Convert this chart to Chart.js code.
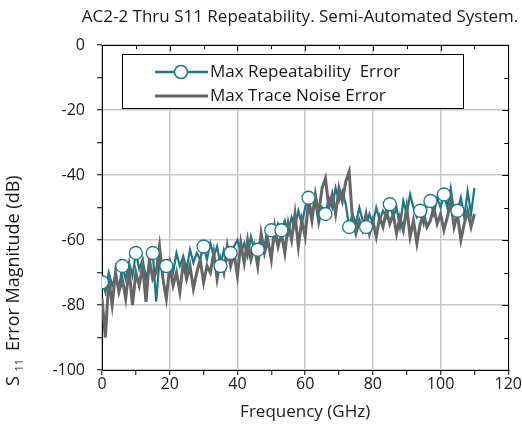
<!DOCTYPE html>
<html>
<head>
<meta charset="utf-8">
<script src="https://cdn.jsdelivr.net/npm/chart.js@4.4.1/dist/chart.umd.min.js"></script>
<style>
  html, body { margin: 0; padding: 0; background: #fff; }
  #wrap { width: 522px; height: 436px; }
</style>
</head>
<body>
<div id="wrap"><canvas id="chart" width="522" height="436"></canvas></div>
<script>
// S11 repeatability, semi-automated system

const TITLE = 'AC2-2 Thru S11 Repeatability. Semi-Automated System.';
const X_TITLE = 'Frequency (GHz)';
const SERIES_NAMES = ['Max Repeatability  Error', 'Max Trace Noise Error'];

const freqGHz = [
  0, 1, 2, 3, 4, 5, 6, 7, 8, 9, 10, 11, 12, 13, 14, 15, 16, 17, 18, 19,
  20, 21, 22, 23, 24, 25, 26, 27, 28, 29, 30, 31, 32, 33, 34, 35, 36, 37, 38, 39,
  40, 41, 42, 43, 44, 45, 46, 47, 48, 49, 50, 51, 52, 53, 54, 55, 56, 57, 58, 59,
  60, 61, 62, 63, 64, 65, 66, 67, 68, 69, 70, 71, 72, 73, 74, 75, 76, 77, 78, 79,
  80, 81, 82, 83, 84, 85, 86, 87, 88, 89, 90, 91, 92, 93, 94, 95, 96, 97, 98, 99,
  100, 101, 102, 103, 104, 105, 106, 107, 108, 109, 110
];

const repeatErr = [
  -73, -76, -70, -74, -71, -75, -68, -72, -67, -71, -64, -69, -66, -72, -67, -64, -79, -66, -70, -68,
  -66, -70, -64, -68, -65, -69, -63, -67, -64, -66, -62, -66, -61, -65, -62, -68, -63, -66, -64, -62,
  -60, -64, -61, -65, -59, -63, -63, -59, -62, -56, -57, -60, -55, -57, -54, -58, -53, -56, -51, -55,
  -50, -47, -52, -48, -55, -50, -52, -47, -50, -44, -48, -45, -49, -56, -52, -55, -50, -54, -56, -52,
  -55, -50, -54, -51, -53, -49, -53, -50, -56, -48, -52, -46, -50, -53, -51, -55, -49, -48, -52, -47,
  -50, -46, -50, -44, -52, -51, -47, -53, -45, -52, -44
];

const noiseErr = [
  -78, -90, -72, -80, -70, -76, -72, -78, -69, -80, -70, -74, -68, -79, -66, -72, -70, -62, -72, -78,
  -68, -74, -70, -76, -67, -72, -68, -75, -70, -66, -73, -68, -70, -64, -72, -66, -70, -62, -68, -64,
  -71, -61, -67, -60, -66, -62, -68, -58, -64, -60, -66, -56, -62, -58, -64, -55, -60, -52, -62, -54,
  -59, -48, -54, -46, -52, -44, -41, -50, -46, -52, -44, -48, -42, -39, -54, -58, -54, -57, -52, -58,
  -54, -59, -53, -56, -51, -55, -52, -58, -53, -57, -50, -59, -54, -61, -55, -52, -56, -54, -50, -55,
  -52, -57, -53, -48, -56, -52, -60, -55, -51, -56, -52
];

// frequencies where the repeatability curve carries an open circle
const markerFreqs = [0, 6, 10, 15, 19, 30, 35, 38, 46, 50, 53, 61, 66, 73, 78, 85, 94, 97, 101, 105];

const xTicks = [0, 20, 40, 60, 80, 100, 120];
const yTicks = [0, -20, -40, -60, -80, -100];

const TEAL = '#177a8b';
const GREY = '#666666';
const INK = '#1a1a1a';
const FONT = '"Open Sans", "Noto Sans", sans-serif';

Chart.defaults.font.family = FONT;
Chart.defaults.font.size = 16;
Chart.defaults.color = INK;

const majorGrid = (vals) => ctx => vals.includes(ctx.tick && ctx.tick.value) ? '#c8c8c8' : 'rgba(0,0,0,0)';

const extraText = {
  id: 'extraText',
  afterDraw(chart) {
    const ctx = chart.ctx, a = chart.chartArea;
    ctx.save();

    // inward ticks on the top and right frame
    ctx.strokeStyle = '#000';
    ctx.lineWidth = 1;
    ctx.beginPath();
    chart.scales.x.ticks.forEach(t => {
      const px = Math.round(chart.scales.x.getPixelForValue(t.value)) + 0.5;
      const len = xTicks.includes(t.value) ? 6 : 4;
      ctx.moveTo(px, a.top); ctx.lineTo(px, a.top + len);
    });
    chart.scales.y.ticks.forEach(t => {
      const py = Math.round(chart.scales.y.getPixelForValue(t.value)) + 0.5;
      const len = yTicks.includes(t.value) ? 6 : 4;
      ctx.moveTo(a.right, py); ctx.lineTo(a.right - len, py);
    });
    ctx.stroke();

    ctx.fillStyle = INK;
    ctx.textBaseline = 'middle';

    // title
    ctx.font = '17px ' + FONT;
    ctx.textAlign = 'center';
    ctx.fillText(TITLE, 300, 17);

    // x axis title
    ctx.fillText(X_TITLE, (a.left + a.right) / 2, 412);

    // y axis title with subscript
    ctx.translate(13, 386);
    ctx.rotate(-Math.PI / 2);
    ctx.textAlign = 'left';
    ctx.textBaseline = 'alphabetic';
    ctx.font = '18px ' + FONT;
    ctx.fillText('S', 0, 6);
    let w = ctx.measureText('S ').width;
    ctx.font = '11px ' + FONT;
    ctx.fillText('11', w, 10);
    w += ctx.measureText('11 ').width + 5;
    ctx.font = '18px ' + FONT;
    ctx.fillText('Error Magnitude (dB)', w, 6);
    ctx.restore();

    // legend box
    ctx.save();
    ctx.fillStyle = '#fff';
    ctx.fillRect(122, 54, 341, 54);
    ctx.strokeStyle = '#000';
    ctx.lineWidth = 1;
    ctx.strokeRect(122.5, 54.5, 341, 54);

    ctx.lineWidth = 2.5;
    ctx.strokeStyle = TEAL;
    ctx.beginPath(); ctx.moveTo(155, 72); ctx.lineTo(208, 72); ctx.stroke();
    ctx.fillStyle = '#fff';
    ctx.lineWidth = 1.5;
    ctx.beginPath(); ctx.arc(181, 72, 6.5, 0, Math.PI * 2); ctx.fill(); ctx.stroke();

    ctx.lineWidth = 3;
    ctx.strokeStyle = GREY;
    ctx.beginPath(); ctx.moveTo(155, 96); ctx.lineTo(208, 96); ctx.stroke();

    ctx.fillStyle = INK;
    ctx.font = '17px ' + FONT;
    ctx.textAlign = 'left';
    ctx.textBaseline = 'middle';
    ctx.fillText(SERIES_NAMES[0], 210, 72);
    ctx.fillText(SERIES_NAMES[1], 210, 96);
    ctx.restore();
  }
};

new Chart(document.getElementById('chart'), {
  type: 'line',
  data: {
    datasets: [
      {
        label: SERIES_NAMES[0] + ' markers',
        data: markerFreqs.map(f => ({ x: f, y: repeatErr[freqGHz.indexOf(f)] })),
        showLine: false,
        pointRadius: 6.5,
        pointBorderWidth: 1.3,
        pointBackgroundColor: '#fff',
        pointBorderColor: TEAL,
        order: 0,
      },
      {
        label: SERIES_NAMES[1],
        data: freqGHz.map((f, i) => ({ x: f, y: noiseErr[i] })),
        borderColor: GREY,
        borderWidth: 3,
        pointRadius: 0,
        tension: 0,
        order: 1,
      },
      {
        label: SERIES_NAMES[0],
        data: freqGHz.map((f, i) => ({ x: f, y: repeatErr[i] })),
        borderColor: TEAL,
        borderWidth: 2.2,
        pointRadius: 0,
        tension: 0,
        order: 2,
      },
    ]
  },
  options: {
    responsive: false,
    animation: false,
    devicePixelRatio: 1,
    layout: { padding: 0 },
    plugins: { legend: { display: false }, tooltip: { enabled: false } },
    scales: {
      x: {
        type: 'linear', position: 'bottom', min: 0, max: 120,
        afterFit: s => { s.height = 66; },
        ticks: { stepSize: 10, padding: 0, maxRotation: 0, autoSkip: false,
                 callback: v => xTicks.includes(v) ? String(v) : '' },
        grid: { color: majorGrid(xTicks), lineWidth: 1.5, tickColor: '#000', tickLength: 5, tickWidth: 1 },
        border: { color: '#000', width: 1 },
      },
      x2: {
        type: 'linear', position: 'top', min: 0, max: 120,
        afterFit: s => { s.height = 45; },
        ticks: { display: false },
        grid: { display: false },
        border: { display: true, color: '#000', width: 1 },
      },
      y: {
        type: 'linear', position: 'left', min: -100, max: 0,
        afterFit: s => { s.width = 102; },
        ticks: { stepSize: 10, padding: 12, autoSkip: false,
                 callback: v => yTicks.includes(v) ? String(v) : '' },
        grid: { color: majorGrid(yTicks), lineWidth: 1.5, tickColor: '#000', tickLength: 5, tickWidth: 1 },
        border: { color: '#000', width: 1 },
      },
      y2: {
        type: 'linear', position: 'right', min: -100, max: 0,
        afterFit: s => { s.width = 13; },
        ticks: { display: false },
        grid: { display: false },
        border: { display: true, color: '#000', width: 1 },
      },
    }
  },
  plugins: [extraText]
});
</script>
</body>
</html>
